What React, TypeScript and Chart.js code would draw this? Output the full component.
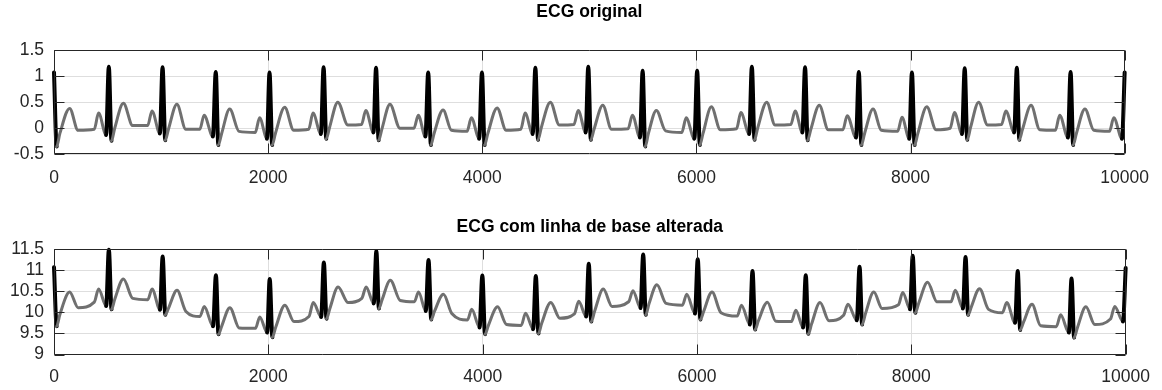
import React, { useEffect, useRef } from "react";
import { Chart, registerables } from "chart.js";

Chart.register(...registerables);

// ---------------- data ----------------
const xTicks = [0, 2000, 4000, 6000, 8000, 10000];
const yTicksOriginal = [-0.5, 0, 0.5, 1, 1.5];
const yTicksAltered = [9, 9.5, 10, 10.5, 11, 11.5];

const titleOriginal = "ECG original";
const titleAltered = "ECG com linha de base alterada";

// key points of each beat: Q, R, S, J, T peak, T end, P onset, P peak
const sampleIdx = [
  0, 25, 55, 146, 225, 376, 416,
  487, 512, 537, 567, 648, 735, 875, 915,
  989, 1014, 1039, 1069, 1148, 1231, 1362, 1402,
  1484, 1511, 1535, 1566, 1641, 1728, 1880, 1920,
  1989, 2013, 2038, 2068, 2155, 2239, 2379, 2419,
  2493, 2518, 2543, 2573, 2651, 2745, 2872, 2912,
  2984, 3008, 3032, 3062, 3138, 3231, 3362, 3402,
  3469, 3495, 3520, 3550, 3634, 3712, 3858, 3898,
  3971, 3997, 4022, 4052, 4139, 4223, 4360, 4400,
  4471, 4496, 4521, 4551, 4636, 4720, 4856, 4896,
  4966, 4990, 5014, 5044, 5126, 5207, 5362, 5402,
  5473, 5498, 5522, 5552, 5626, 5712, 5864, 5904,
  5981, 6007, 6032, 6062, 6140, 6224, 6375, 6415,
  6493, 6518, 6543, 6573, 6657, 6735, 6882, 6922,
  6990, 7015, 7039, 7069, 7148, 7232, 7368, 7408,
  7491, 7517, 7541, 7571, 7650, 7727, 7880, 7920,
  7988, 8013, 8038, 8068, 8152, 8239, 8370, 8410,
  8481, 8506, 8530, 8560, 8636, 8720, 8850, 8890,
  8968, 8993, 9016, 9046, 9126, 9207, 9353, 9393,
  9470, 9495, 9519, 9549, 9629, 9712, 9858, 9898,
  9975, 10000,
];

const ecgOriginal = [
  1.07, -0.35, -0.1, 0.38, -0.04, -0.02, 0.29,
  -0.13, 1.18, -0.24, 0.0, 0.48, 0.05, 0.05, 0.33,
  -0.1, 1.17, -0.23, -0.02, 0.46, -0.02, -0.02, 0.25,
  -0.16, 1.08, -0.32, -0.1, 0.37, -0.06, -0.08, 0.2,
  -0.2, 1.07, -0.32, -0.1, 0.4, -0.04, -0.02, 0.29,
  -0.11, 1.17, -0.2, 0.01, 0.5, 0.06, 0.07, 0.34,
  -0.08, 1.16, -0.23, -0.02, 0.46, 0.0, 0.0, 0.25,
  -0.16, 1.07, -0.32, -0.1, 0.35, -0.04, -0.06, 0.2,
  -0.2, 1.07, -0.32, -0.1, 0.39, -0.04, -0.02, 0.29,
  -0.11, 1.16, -0.22, 0.01, 0.5, 0.06, 0.07, 0.34,
  -0.08, 1.18, -0.22, -0.02, 0.44, -0.02, -0.01, 0.25,
  -0.18, 1.1, -0.35, -0.1, 0.34, -0.05, -0.08, 0.2,
  -0.2, 1.1, -0.32, -0.1, 0.41, -0.03, -0.01, 0.3,
  -0.11, 1.18, -0.22, 0.01, 0.5, 0.06, 0.07, 0.33,
  -0.08, 1.17, -0.23, -0.02, 0.44, -0.03, -0.03, 0.24,
  -0.18, 1.08, -0.32, -0.1, 0.37, -0.04, -0.06, 0.21,
  -0.2, 1.07, -0.32, -0.1, 0.41, -0.03, 0.0, 0.3,
  -0.11, 1.15, -0.22, 0.01, 0.5, 0.06, 0.07, 0.33,
  -0.08, 1.16, -0.22, -0.02, 0.44, -0.03, -0.04, 0.25,
  -0.18, 1.08, -0.32, -0.1, 0.37, -0.04, -0.06, 0.2,
  -0.2, 1.07,
];

// baseline level of the altered signal at the same key points
const baselineWander = [
  10.0, 10.02, 10.05, 10.1, 10.15, 10.26, 10.26,
  10.28, 10.3, 10.31, 10.31, 10.31, 10.28, 10.25, 10.22,
  10.16, 10.15, 10.17, 10.12, 10.06, 10.04, 9.92, 9.89,
  9.83, 9.8, 9.8, 9.78, 9.74, 9.69, 9.7, 9.69,
  9.72, 9.72, 9.73, 9.74, 9.77, 9.82, 9.92, 9.94,
  10.0, 10.01, 10.05, 10.07, 10.1, 10.17, 10.26, 10.26,
  10.29, 10.29, 10.32, 10.32, 10.3, 10.28, 10.25, 10.23,
  10.19, 10.17, 10.15, 10.12, 10.08, 10.01, 9.88, 9.87,
  9.84, 9.8, 9.8, 9.78, 9.74, 9.75, 9.71, 9.69,
  9.71, 9.7, 9.72, 9.73, 9.73, 9.8, 9.89, 9.92,
  9.98, 9.97, 10.0, 10.04, 10.11, 10.16, 10.26, 10.26,
  10.28, 10.27, 10.29, 10.3, 10.31, 10.26, 10.25, 10.23,
  10.17, 10.16, 10.15, 10.12, 10.07, 10.02, 9.92, 9.87,
  9.82, 9.8, 9.81, 9.79, 9.74, 9.73, 9.71, 9.72,
  9.72, 9.71, 9.72, 9.74, 9.79, 9.83, 9.96, 9.95,
  9.99, 10.0, 10.03, 10.06, 10.11, 10.13, 10.24, 10.26,
  10.27, 10.27, 10.31, 10.31, 10.3, 10.28, 10.25, 10.22,
  10.2, 10.16, 10.16, 10.12, 10.06, 10.01, 9.92, 9.9,
  9.83, 9.82, 9.8, 9.78, 9.75, 9.71, 9.7, 9.69,
  9.7, 9.72, 9.72, 9.73, 9.76, 9.75, 9.9, 9.94,
  9.98, 9.98,
];

const ecgAltered = ecgOriginal.map((v, i) => +(v + baselineWander[i]).toFixed(3));

// ---------------- styling ----------------
const FONT = '"Liberation Sans", Arial, Helvetica, sans-serif';
const AXIS_COLOR = "#262626";
const GRID_COLOR = "#dedede";
const LINE_GRAY = "#707070";
const QRS_BLACK = "#000000";
const TICK_FONT = 17.5;
const TITLE_FONT = 17.5;

const innerTicksPlugin = {
  id: "innerTicks",
  afterDatasetsDraw(chart: any) {
    const { ctx, chartArea: a, scales } = chart;
    const len = 10;
    const l = Math.round(a.left) + 0.5;
    const r = Math.round(a.right) - 0.5;
    const t = Math.round(a.top) + 0.5;
    const b = Math.round(a.bottom) - 0.5;
    ctx.save();
    ctx.strokeStyle = AXIS_COLOR;
    ctx.lineWidth = 1;
    ctx.beginPath();
    ctx.rect(l, t, r - l, b - t);
    for (const tk of scales.x.ticks) {
      const px = Math.round(scales.x.getPixelForValue(tk.value)) + 0.5;
      ctx.moveTo(px, b);
      ctx.lineTo(px, b - len);
      ctx.moveTo(px, t);
      ctx.lineTo(px, t + len);
    }
    for (const tk of scales.y.ticks) {
      const py = Math.round(scales.y.getPixelForValue(tk.value)) + 0.5;
      ctx.moveTo(l, py);
      ctx.lineTo(l + len, py);
      ctx.moveTo(r, py);
      ctx.lineTo(r - len, py);
    }
    ctx.stroke();
    ctx.restore();
  },
};

// title centred over the plotting area (as in the reference)
const panelTitlePlugin = {
  id: "panelTitle",
  afterDraw(chart: any, _args: any, opts: any) {
    const { ctx, chartArea: a } = chart;
    ctx.save();
    ctx.fillStyle = "#000000";
    ctx.font = `bold ${TITLE_FONT}px ${FONT}`;
    ctx.textAlign = "center";
    ctx.textBaseline = "middle";
    ctx.fillText(opts.text, (a.left + a.right) / 2, opts.y);
    ctx.restore();
  },
};

type PanelOpts = {
  title: string;
  titleY: number;
  values: number[];
  yTicks: number[];
  top: number;
  xAxisHeight: number;
  xLabelPad: number;
};

function isSteep(ctx: any) {
  const dx = ctx.p1.parsed.x - ctx.p0.parsed.x;
  const dy = Math.abs(ctx.p1.parsed.y - ctx.p0.parsed.y);
  return dx > 0 && dy / dx > 0.02;
}

function buildConfig(o: PanelOpts): any {
  const points = sampleIdx.map((x, i) => ({ x, y: o.values[i] }));
  return {
    type: "line",
    data: {
      datasets: [
        {
          data: points,
          borderColor: LINE_GRAY,
          borderWidth: 3,
          pointRadius: 0,
          pointHoverRadius: 0,
          fill: false,
          clip: 3,
          tension: 0.4,
          cubicInterpolationMode: "monotone",
          borderCapStyle: "round",
          borderJoinStyle: "round",
          segment: {
            borderColor: (ctx: any) => (isSteep(ctx) ? QRS_BLACK : LINE_GRAY),
            borderWidth: (ctx: any) => (isSteep(ctx) ? 4 : 3),
          },
        },
      ],
    },
    options: {
      responsive: false,
      animation: false,
      events: [],
      layout: { padding: { left: 0, right: 32, top: o.top, bottom: 0 } },
      plugins: {
        legend: { display: false },
        tooltip: { enabled: false },
        title: { display: false },
        panelTitle: { text: o.title, y: o.titleY },
      },
      scales: {
        x: {
          type: "linear",
          min: xTicks[0],
          max: xTicks[xTicks.length - 1],
          afterBuildTicks: (s: any) => {
            s.ticks = xTicks.map((v) => ({ value: v }));
          },
          afterFit: (s: any) => {
            s.height = o.xAxisHeight;
          },
          grid: { color: GRID_COLOR, lineWidth: 1, drawTicks: false },
          border: { display: false },
          ticks: {
            color: AXIS_COLOR,
            font: { family: FONT, size: TICK_FONT },
            padding: o.xLabelPad,
            maxRotation: 0,
            autoSkip: false,
            callback: (v: any) => String(v),
          },
        },
        y: {
          type: "linear",
          min: o.yTicks[0],
          max: o.yTicks[o.yTicks.length - 1],
          afterBuildTicks: (s: any) => {
            s.ticks = o.yTicks.map((v) => ({ value: v }));
          },
          afterFit: (s: any) => {
            s.width = 54;
          },
          grid: { color: GRID_COLOR, lineWidth: 1, drawTicks: false },
          border: { display: false },
          ticks: {
            color: AXIS_COLOR,
            font: { family: FONT, size: TICK_FONT },
            padding: 10,
            autoSkip: false,
            callback: (v: any) => String(v),
          },
        },
      },
    },
    plugins: [innerTicksPlugin, panelTitlePlugin],
  };
}

export default function App() {
  const topRef = useRef<HTMLCanvasElement>(null);
  const botRef = useRef<HTMLCanvasElement>(null);

  useEffect(() => {
    const c1 = new Chart(
      topRef.current as HTMLCanvasElement,
      buildConfig({
        title: titleOriginal,
        titleY: 12.5,
        values: ecgOriginal,
        yTicks: yTicksOriginal,
        top: 50,
        xAxisHeight: 40.7,
        xLabelPad: 13,
      })
    );
    const c2 = new Chart(
      botRef.current as HTMLCanvasElement,
      buildConfig({
        title: titleAltered,
        titleY: 32.5,
        values: ecgAltered,
        yTicks: yTicksAltered,
        top: 54,
        xAxisHeight: 35.5,
        xLabelPad: 12,
      })
    );
    return () => {
      c1.destroy();
      c2.destroy();
    };
  }, []);

  return (
    <div
      style={{
        position: "fixed",
        left: 0,
        top: 0,
        width: 1162,
        height: 390,
        background: "#ffffff",
      }}
    >
      <canvas ref={topRef} width={1162} height={195} style={{ display: "block" }} />
      <canvas ref={botRef} width={1162} height={195} style={{ display: "block" }} />
    </div>
  );
}
